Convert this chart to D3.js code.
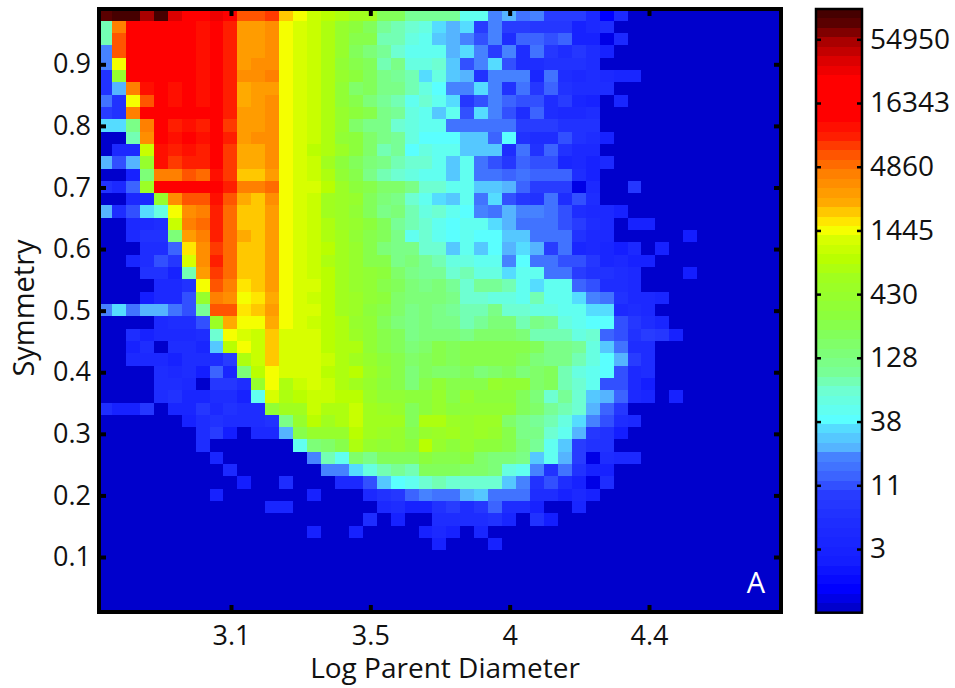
<!DOCTYPE html>
<html>
<head>
<meta charset="utf-8">
<script src="https://cdn.jsdelivr.net/npm/d3@7"></script>
<style>
body { margin: 0; background: #fff; }
text { font-family: "Open Sans", sans-serif; fill: #111; }
</style>
</head>
<body>
<div id="chart"></div>
<script>
// x axis ticks sit on every 10th bin, labels are rounded in the original
var xTickValues = [3.1, 3.55, 4.0, 4.45];
var xTickLabels = ["3.1", "3.5", "4", "4.4"];
var yTickValues = [0.1, 0.2, 0.3, 0.4, 0.5, 0.6, 0.7, 0.8, 0.9];
var cbarTickValues = [3.36, 11.3, 38, 128, 430, 1445, 4860, 16343, 54950];
var cbarTickLabels = ["3", "11", "38", "128", "430", "1445", "4860", "16343", "54950"];

// colormap anchors: level index (0-63) -> colour
var colorLevels = [0, 2, 5, 9, 12, 14, 16, 17, 19, 20, 23, 25, 29, 31, 35, 37, 39, 40, 41, 43, 46, 48, 50, 52, 56, 58, 60, 61, 62, 63];
var colorStops = ["#0000cc", "#0000ff", "#141eff", "#1e2dff", "#283cff", "#3c64ff", "#4682ff", "#55b4ff", "#55dcff", "#5affff", "#6effd2", "#78ff96", "#82ff5a", "#8cff3c", "#a0ff1e", "#b9ff00", "#d7ff00", "#f5ff00", "#ffe600", "#ffaa00", "#ff8000", "#ff5500", "#ff1e00", "#ff0000", "#ff0000", "#dc0000", "#aa0000", "#800000", "#5a0000", "#460000"];

// colour level of each bin, top row first, left to right. trailing zeros left out
var row00 = [62,63,63,60,63,58,54,54,57,52,48,48,49,42,40,38,37,36,35,35,29,29,25,25,25,25,21,21,16,17,15,16,12,12,12,8,2,8];
var row01 = [24,46,52,52,53,52,52,51,53,50,44,44,45,40,39,38,36,33,31,29,25,24,23,22,19,17,19,12,16,12,12,11,11,11,6,8,9];
var row02 = [24,48,53,53,55,53,52,51,53,50,44,44,45,40,39,38,36,33,30,30,24,24,22,21,18,17,16,13,16,9,14,14,13,14,6,6,1,8];
var row03 = [16,48,53,53,55,53,52,51,53,50,44,44,45,40,39,38,36,33,29,27,25,23,21,21,21,17,19,16,12,16,9,15,11,9,11,9,6];
var row04 = [16,40,53,54,54,53,53,51,53,50,44,45,45,40,39,38,36,32,30,29,24,26,22,22,23,18,13,16,19,13,9,9,10,10,10,9];
var row05 = [10,33,53,53,56,53,53,51,53,50,45,45,46,40,39,38,36,33,31,29,26,25,24,19,22,18,17,10,16,16,16,7,15,9,8,9,8,7,7];
var row06 = [10,17,46,51,53,51,52,51,53,50,43,44,44,40,39,38,36,32,28,29,26,26,24,22,20,16,16,19,16,10,15,11,14,10,9,9,9];
var row07 = [15,10,40,48,53,51,52,51,53,50,43,44,45,40,39,38,36,32,30,27,25,24,21,23,21,19,11,13,16,14,13,13,9,12,7,6,0,7];
var row08 = [12,10,46,52,56,53,54,52,53,50,44,44,45,40,39,38,36,33,31,30,26,25,22,21,18,21,13,19,16,13,9,14,9,8,8,9];
var row09 = [19,19,26,46,53,50,51,50,53,49,44,44,45,40,39,38,36,33,28,26,26,23,22,21,21,15,15,15,15,15,12,12,12,10,10,10];
var row10 = [0,0,24,45,53,51,52,51,53,50,44,45,45,40,39,38,36,32,31,28,26,25,22,20,20,20,18,18,14,20,10,9,9,13,10,9,6];
var row11 = [0,8,8,38,51,50,51,50,53,49,43,43,45,40,39,37,36,34,31,28,24,25,20,22,21,21,18,18,18,9,15,10,14,10,8,8];
var row12 = [17,13,17,33,51,49,50,50,53,49,43,43,45,40,39,38,35,31,29,27,26,24,23,23,21,18,21,15,13,11,14,13,13,7,8,6,8];
var row13 = [0,0,6,27,46,46,48,47,51,49,42,42,44,40,39,38,36,32,30,26,24,23,22,21,21,18,21,15,15,14,15,14,14,14,9,6];
var row14 = [10,8,14,34,52,52,52,52,54,50,46,46,47,40,39,39,37,34,31,30,28,28,26,23,23,21,21,18,18,17,14,12,12,12,1,8,0,0,11];
var row15 = [0,0,8,8,33,45,48,48,51,48,43,42,45,40,39,38,35,34,33,29,27,26,23,21,19,18,21,15,19,13,11,10,15,9,13,9];
var row16 = [17,9,13,19,22,40,45,46,50,47,42,42,44,40,39,38,35,34,32,29,26,27,24,22,23,21,20,16,15,17,16,16,15,13,9,8,8,6];
var row17 = [0,0,8,8,9,38,46,47,50,47,42,42,44,40,39,38,36,34,33,31,29,25,24,23,21,20,21,21,19,17,15,15,15,13,12,9,8,0,6,6];
var row18 = [0,0,8,10,10,27,44,46,50,47,43,42,44,40,39,38,36,35,32,30,29,26,21,23,21,20,21,20,20,18,18,15,15,15,10,8,8,0,0,0,0,0,5];
var row19 = [0,0,0,9,9,14,41,45,49,47,42,42,44,40,39,38,37,35,33,30,27,26,26,23,23,18,21,18,20,17,19,17,12,15,7,8,7,5,8,0,6];
var row20 = [0,0,7,9,13,11,39,45,50,47,42,42,44,40,39,38,36,35,33,30,30,26,27,25,24,22,22,21,21,16,20,15,15,13,13,11,7,8,6,6];
var row21 = [0,0,0,10,10,6,24,44,49,47,42,42,44,40,39,38,37,35,33,32,31,28,26,25,25,23,24,22,22,19,21,21,15,15,12,10,10,9,8,0,0,0,5];
var row22 = [0,0,0,0,8,8,10,40,48,46,41,42,44,40,39,39,37,35,33,32,30,29,27,26,27,25,23,25,25,24,21,19,21,21,14,13,9,9,8];
var row23 = [0,0,0,5,8,8,13,33,46,45,40,41,43,40,39,38,37,35,34,32,31,28,27,27,27,26,23,23,22,22,21,24,21,21,19,16,15,10,8,8,7];
var row24 = [16,19,15,17,17,15,13,25,48,48,41,42,44,40,39,39,37,35,34,31,30,28,26,27,26,25,24,24,26,23,23,22,22,21,21,19,19,8,9,8];
var row25 = [0,0,0,0,8,9,9,13,34,43,40,40,43,40,39,38,37,36,33,32,29,27,26,27,26,26,24,25,27,27,24,26,25,22,21,20,20,13,11,9,7];
var row26 = [0,0,9,6,8,8,8,9,23,40,39,38,42,39,39,39,37,36,34,32,30,29,26,27,27,27,26,28,28,28,27,24,24,24,22,23,14,13,10,12,11,6];
var row27 = [0,0,6,9,0,9,9,7,18,37,40,38,42,39,39,39,37,36,36,32,30,29,27,28,30,29,30,30,30,30,30,29,26,26,25,22,18,15,9,9];
var row28 = [0,0,8,8,8,6,9,9,9,12,36,38,42,39,39,39,38,36,35,33,31,30,28,29,30,29,30,30,30,30,29,27,26,26,24,22,20,17,12,9];
var row29 = [0,0,0,0,9,8,9,5,14,7,27,37,40,39,39,39,37,36,37,34,32,30,27,29,28,28,29,27,28,29,27,28,29,24,22,21,20,13,8,9];
var row30 = [0,0,0,0,9,9,8,0,11,11,9,33,40,36,38,39,38,36,35,33,31,30,27,30,32,30,30,30,33,32,32,28,29,24,23,21,13,13,8,5];
var row31 = [0,0,0,0,9,10,7,7,9,9,6,21,39,36,37,38,38,37,37,34,32,32,31,31,33,30,33,31,31,31,29,27,23,25,23,18,17,14,8,7,0,6];
var row32 = [9,6,6,11,0,7,7,11,8,10,9,9,32,35,35,38,36,36,38,35,34,33,29,31,33,31,32,32,32,32,29,28,25,24,23,17,14,11];
var row33 = [0,0,0,0,0,0,6,9,10,9,9,9,10,26,33,37,35,36,38,35,35,35,29,36,36,34,33,34,34,28,26,25,24,22,19,16,13,9,8];
var row34 = [0,0,0,0,0,0,0,9,12,5,0,8,8,17,30,33,33,33,37,35,34,33,30,33,34,35,33,34,33,30,26,26,23,21,17,11,10,5];
var row35 = [0,0,0,0,0,0,0,9,0,0,0,0,0,0,21,27,28,30,36,33,32,33,31,37,33,31,33,31,31,30,27,25,21,18,12,10,10];
var row36 = [0,0,0,0,0,0,0,0,7,0,0,0,0,0,0,16,24,21,28,26,29,29,29,31,30,30,31,28,27,27,26,18,21,17,12,1,9,8,8];
var row37 = [0,0,0,0,0,0,0,0,0,8,0,0,0,0,0,0,16,16,19,22,24,25,24,29,29,29,28,28,27,22,21,16,10,15,10,6,6];
var row38 = [0,0,0,0,0,0,0,0,0,0,5,0,0,9,0,0,0,8,8,13,18,20,21,23,24,23,23,23,23,18,16,10,13,9,6,1,9];
var row39 = [0,0,0,0,0,0,0,0,6,0,0,0,0,0,0,6,0,0,0,8,10,11,14,16,15,15,17,18,15,15,15,9,9,6,8,6];
var row40 = [0,0,0,0,0,0,0,0,0,0,0,0,7,7,0,0,0,0,0,0,8,9,6,6,10,12,9,11,14,9,9,6,0,0,7];
var row41 = [0,0,0,0,0,0,0,0,0,0,0,0,0,0,0,0,0,0,0,9,0,6,0,0,9,9,9,9,10,7,0,10,5];
var row42 = [0,0,0,0,0,0,0,0,0,0,0,0,0,0,0,6,0,0,6,0,0,0,0,6,8,6,0,7];
var row43 = [0,0,0,0,0,0,0,0,0,0,0,0,0,0,0,0,0,0,0,0,0,0,0,0,6,0,0,0,6];
var row44 = [], row45 = [], row46 = [], row47 = [], row48 = [];

var levels = [row00,row01,row02,row03,row04,row05,row06,row07,row08,row09,row10,row11,row12,row13,row14,row15,row16,row17,row18,row19,row20,row21,row22,row23,row24,row25,row26,row27,row28,row29,row30,row31,row32,row33,row34,row35,row36,row37,row38,row39,row40,row41,row42,row43,row44,row45,row46,row47,row48];

var nCols = 49,
    firstEdgeX = 2.6706,
    binX = 0.045,
    firstEdgeY = 0.9908,
    binY = 0.02,
    nLevels = 64;

var svg = d3.select("#chart")
    .append("svg")
    .attr("width", 955)
    .attr("height", 688);

var plot = { left: 101, right: 779, top: 11, bottom: 610 };

var x = d3.scaleLinear().domain([3.1, 4.45]).range([231, 649]);
var y = d3.scaleLinear().domain([0.1, 0.9]).range([557, 64.3]);
var color = d3.scaleLinear().domain(colorLevels).range(colorStops);

svg.append("clipPath")
    .attr("id", "plot-clip")
    .append("rect")
    .attr("x", plot.left)
    .attr("y", plot.top)
    .attr("width", plot.right - plot.left)
    .attr("height", plot.bottom - plot.top);

var cells = [];
levels.forEach(function(row, r) {
    d3.range(nCols).forEach(function(c) {
        cells.push({ r: r, c: c, level: row[c] || 0 });
    });
});

// rounded edges so neighbouring cells share a pixel boundary, no seams
svg.append("g")
    .attr("clip-path", "url(#plot-clip)")
    .attr("shape-rendering", "crispEdges")
    .selectAll("rect")
    .data(cells)
    .enter()
    .append("rect")
    .attr("x", function(d) { return Math.round(x(firstEdgeX + d.c * binX)); })
    .attr("y", function(d) { return Math.round(y(firstEdgeY - d.r * binY)); })
    .attr("width", function(d) { return Math.round(x(firstEdgeX + (d.c + 1) * binX)) - Math.round(x(firstEdgeX + d.c * binX)); })
    .attr("height", function(d) { return Math.round(y(firstEdgeY - (d.r + 1) * binY)) - Math.round(y(firstEdgeY - d.r * binY)); })
    .style("fill", function(d) { return color(d.level); });

svg.append("text")
    .attr("x", 756)
    .attr("y", 593)
    .attr("text-anchor", "middle")
    .style("font-size", "29px")
    .style("fill", "#fff")
    .text("A");

// axes
var axisBottom = d3.axisBottom(x)
    .tickValues(xTickValues)
    .tickFormat(function(d, i) { return xTickLabels[i]; })
    .tickSizeInner(-5)
    .tickSizeOuter(0)
    .tickPadding(16);

var axisLeft = d3.axisLeft(y)
    .tickValues(yTickValues)
    .tickFormat(d3.format(".1f"))
    .tickSizeInner(-5)
    .tickSizeOuter(0)
    .tickPadding(10);

svg.append("g")
    .attr("class", "axis")
    .attr("transform", "translate(0," + plot.bottom + ")")
    .call(axisBottom);

svg.append("g")
    .attr("class", "axis")
    .attr("transform", "translate(" + plot.left + ",0)")
    .call(axisLeft);

svg.append("g")
    .attr("class", "axis")
    .attr("transform", "translate(0," + plot.top + ")")
    .call(d3.axisTop(x).tickValues(xTickValues).tickFormat("").tickSizeInner(-5).tickSizeOuter(0));

svg.append("g")
    .attr("class", "axis")
    .attr("transform", "translate(" + plot.right + ",0)")
    .call(d3.axisRight(y).tickValues(yTickValues).tickFormat("").tickSizeInner(-5).tickSizeOuter(0));

svg.selectAll(".axis .domain").remove();
svg.selectAll(".axis line").style("stroke", "#000").style("stroke-width", 4);
svg.selectAll(".axis text").style("font-size", "27px").style("font-family", '"Open Sans", sans-serif');

svg.append("rect")
    .attr("x", plot.left - 2)
    .attr("y", plot.top - 2)
    .attr("width", plot.right - plot.left + 4)
    .attr("height", plot.bottom - plot.top + 4)
    .style("fill", "none")
    .style("stroke", "#000")
    .style("stroke-width", 4);

svg.append("text")
    .attr("x", 445)
    .attr("y", 678)
    .attr("text-anchor", "middle")
    .style("font-size", "28px")
    .text("Log Parent Diameter");

svg.append("text")
    .attr("transform", "translate(34,308) rotate(-90)")
    .attr("text-anchor", "middle")
    .style("font-size", "29px")
    .text("Symmetry");

// colorbar
var bar = { left: 816, right: 862, top: 9, bottom: 612.7 };
var barLevel = d3.scaleLinear().domain([0, nLevels]).range([bar.bottom, bar.top]);
var barScale = d3.scaleLog().domain([1, 54950]).range([612.7, 39.3]);

svg.append("g")
    .attr("shape-rendering", "crispEdges")
    .selectAll("rect")
    .data(d3.range(nLevels))
    .enter()
    .append("rect")
    .attr("x", bar.left)
    .attr("y", function(d) { return Math.round(barLevel(d + 1)); })
    .attr("width", bar.right - bar.left)
    .attr("height", function(d) { return Math.round(barLevel(d)) - Math.round(barLevel(d + 1)); })
    .style("fill", function(d) { return color(d); });

svg.append("g")
    .attr("class", "cbar")
    .attr("transform", "translate(" + bar.right + ",0)")
    .call(d3.axisRight(barScale)
        .tickValues(cbarTickValues)
        .tickFormat(function(d, i) { return cbarTickLabels[i]; })
        .tickSizeInner(-5)
        .tickSizeOuter(0)
        .tickPadding(8));

svg.append("g")
    .attr("class", "cbar")
    .attr("transform", "translate(" + bar.left + ",0)")
    .call(d3.axisLeft(barScale)
        .tickValues(cbarTickValues)
        .tickFormat("")
        .tickSizeInner(-5)
        .tickSizeOuter(0));

svg.selectAll(".cbar .domain").remove();
svg.selectAll(".cbar line").style("stroke", "#000").style("stroke-width", 2.5);
svg.selectAll(".cbar text").style("font-size", "28px").style("font-family", '"Open Sans", sans-serif');

svg.append("rect")
    .attr("x", bar.left)
    .attr("y", bar.top)
    .attr("width", bar.right - bar.left)
    .attr("height", bar.bottom - bar.top)
    .style("fill", "none")
    .style("stroke", "#000")
    .style("stroke-width", 2.5);
</script>
</body>
</html>
